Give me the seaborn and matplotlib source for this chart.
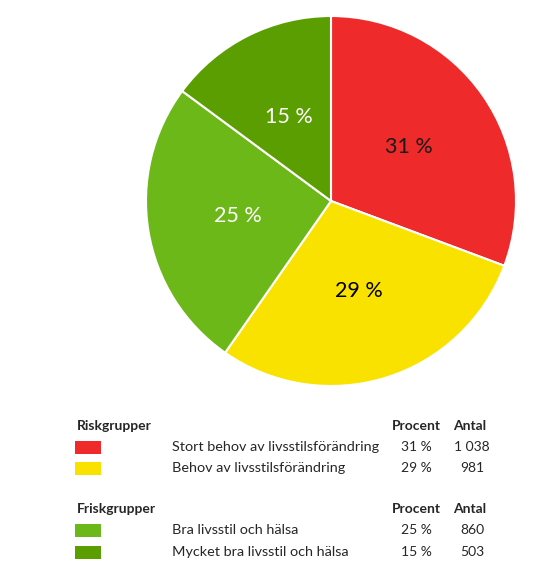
import matplotlib
matplotlib.use("Agg")
import matplotlib.pyplot as plt
import seaborn as sns
import numpy as np
from matplotlib.patches import Rectangle

# Data
grupper = ["Riskgrupper", "Friskgrupper"]
kategorier = ["Stort behov av livsstilsförändring", "Behov av livsstilsförändring",
              "Bra livsstil och hälsa", "Mycket bra livsstil och hälsa"]
antal = [1038, 981, 860, 503]
procent_etiketter = ["31 %", "29 %", "25 %", "15 %"]
antal_etiketter = ["1 038", "981", "860", "503"]
farger = ["#EE2A2B", "#F9E200", "#6CB818", "#5B9E02"]
textfarger = ["#1a1a1a", "#000000", "white", "white"]

sns.set_theme(style="white")
plt.rcParams["font.family"] = ["Lato", "DejaVu Sans"]

W, H = 533, 586
fig = plt.figure(figsize=(W / 100, H / 100), dpi=100)

# Tårtdiagram
cx, cy, r = 331, 201, 185
ax = fig.add_axes([(cx - r) / W, (H - cy - r) / H, 2 * r / W, 2 * r / H])
wedges, _ = ax.pie(antal, colors=farger, startangle=90, counterclock=False,
                   wedgeprops=dict(edgecolor="white", linewidth=1.5))
ax.set_aspect("auto")
ax.set_xlim(-1, 1)
ax.set_ylim(-1, 1)
for w, lab, tc in zip(wedges, procent_etiketter, textfarger):
    mid = np.deg2rad((w.theta1 + w.theta2) / 2)
    ax.text(0.51 * np.cos(mid), 0.51 * np.sin(mid), lab, ha="center", va="center",
            fontsize=15.5, color=tc)

# Tabell / förklaring
tab = fig.add_axes([0, 0, 1, 1])
tab.set_xlim(0, W)
tab.set_ylim(H, 0)
tab.axis("off")

fs = 10
rader_y = [[447, 468], [530, 552]]
rubrik_y = [426, 509]
for g, (gnamn, ry) in enumerate(zip(grupper, rubrik_y)):
    tab.text(77, ry, gnamn, fontsize=fs, fontweight="bold", ha="left", va="center")
    tab.text(416, ry, "Procent", fontsize=fs, fontweight="bold", ha="center", va="center")
    tab.text(470, ry, "Antal", fontsize=fs, fontweight="bold", ha="center", va="center")
    for j, y in enumerate(rader_y[g]):
        i = g * 2 + j
        tab.add_patch(Rectangle((75, y - 6.5), 26, 13, facecolor=farger[i], edgecolor="none"))
        tab.text(172, y, kategorier[i], fontsize=10.4, ha="left", va="center")
        tab.text(416, y, procent_etiketter[i], fontsize=fs, ha="center", va="center")
        tab.text(472, y, antal_etiketter[i], fontsize=fs, ha="center", va="center")

fig.savefig("out.png", dpi=100, facecolor="white")
